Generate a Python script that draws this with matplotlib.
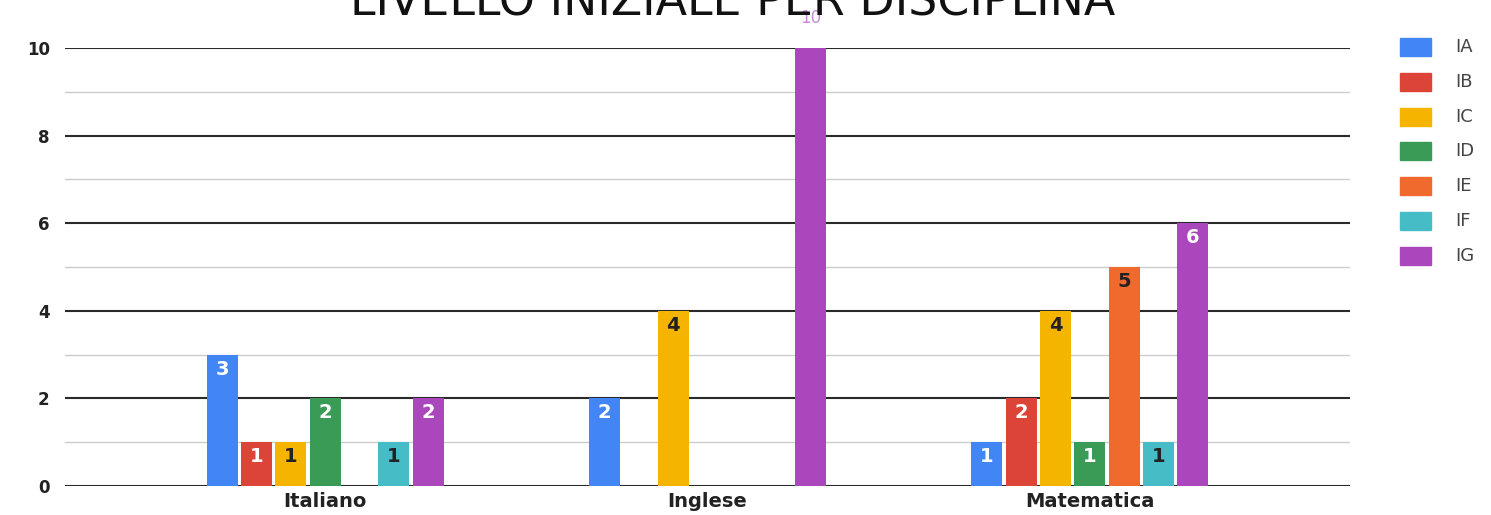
import matplotlib.pyplot as plt
import numpy as np

plt.rcParams['font.family'] = ['DejaVu Sans']

# dati
categorie = ["Italiano", "Inglese", "Matematica"]
classi = ["IA", "IB", "IC", "ID", "IE", "IF", "IG"]
valori = {
    "IA": [3, 2, 1],
    "IB": [1, 0, 2],
    "IC": [1, 4, 4],
    "ID": [2, 0, 1],
    "IE": [0, 0, 5],
    "IF": [1, 0, 1],
    "IG": [2, 10, 6],
}
colori = ["#4285F4", "#DB4437", "#F4B400", "#3A9B57", "#F06A2E", "#46BDC6", "#AB47BC"]
testo_scuro = {"IC", "IE", "IF"}

fig = plt.figure(figsize=(14.91, 5.15), dpi=100)
ax = fig.add_axes([65 / 1491, 29 / 515, (1350 - 65) / 1491, (486 - 48) / 515])
ax.set_ylim(0, 10)
ax.set_xlim(-0.68, 2.68)

x = np.arange(len(categorie))
passo = 0.0898
larg = 0.081

# griglia
for v in range(0, 11):
    if v % 2 == 0:
        ax.axhline(v, color="#2a2a2a", lw=1.5, zorder=1)
    else:
        ax.axhline(v, color="#cccccc", lw=1.0, zorder=1)

for i, c in enumerate(classi):
    off = (i - 3) * passo
    vals = valori[c]
    for j, v in enumerate(vals):
        if v == 0:
            continue
        ax.bar(x[j] + off, v, width=larg, color=colori[i], zorder=2)
        if c == "IG" and v == 10:
            ax.text(x[j] + off, v + 0.68, str(v), ha="center", va="center",
                    color="#c78ad6", fontsize=12, zorder=3, clip_on=False)
        else:
            col = "#222222" if c in testo_scuro else "white"
            ax.text(x[j] + off, v - 0.33, str(v), ha="center", va="center",
                    color=col, fontsize=14, fontweight="bold", zorder=3)

for s in ax.spines.values():
    s.set_visible(False)
ax.set_yticks(range(0, 11, 2))
ax.set_yticklabels([str(v) for v in range(0, 11, 2)], fontsize=12, fontweight="bold", color="#222222")
ax.tick_params(axis="y", length=0, pad=11)
ax.set_xticks(x)
ax.set_xticklabels(categorie, fontsize=14, fontweight="bold", color="#222222")
ax.tick_params(axis="x", length=0, pad=4)

# legenda
for i, c in enumerate(classi):
    yy = 1 - (47 + i * 34.8) / 515
    fig.patches.append(plt.Rectangle((1400 / 1491, yy - 9 / 515), 31 / 1491, 18 / 515,
                                     transform=fig.transFigure, color=colori[i]))
    fig.text(1455 / 1491, yy, c, ha="left", va="center", fontsize=13, color="#444444")

fig.text(733 / 1491, 1 - 15 / 515, "LIVELLO INIZIALE PER DISCIPLINA", ha="center",
         va="baseline", fontsize=33, color="#111111")

fig.savefig("out.png", dpi=100)
